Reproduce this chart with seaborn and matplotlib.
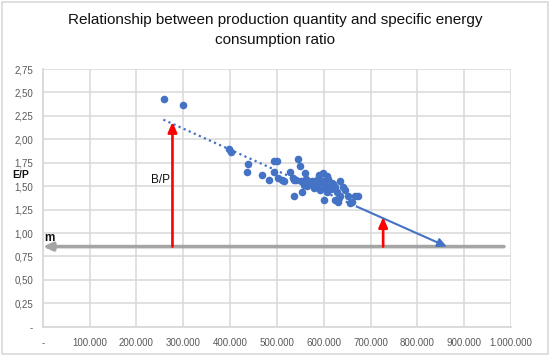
import matplotlib
matplotlib.use("Agg")
import matplotlib.pyplot as plt
import seaborn as sns
import pandas as pd
from matplotlib.patches import FancyBboxPatch

# ---- data ----
production = [259000, 299000, 398000, 402000, 439000, 436000, 469000, 484000,
              493000, 501000, 493000, 503000, 512000, 515000, 546000, 549000,
              529000, 535000, 540000, 536000, 560000, 562000, 552000, 557000,
              553000, 537000, 578000, 580000, 591000, 599000, 607000, 610000,
              582000, 585000, 596000, 603000, 610000, 592000, 607000, 617000,
              624000, 635000, 642000, 646000, 601000, 624000, 635000, 631000,
              656000, 660000, 667000, 674000, 653000, 570000, 588000, 598000,
              615000, 620000, 575000, 565000, 628000, 605000]
ep_ratio = [2.43, 2.37, 1.90, 1.87, 1.74, 1.65, 1.62, 1.57,
            1.77, 1.77, 1.65, 1.59, 1.57, 1.55, 1.79, 1.71,
            1.65, 1.59, 1.57, 1.57, 1.64, 1.58, 1.55, 1.51,
            1.44, 1.40, 1.51, 1.48, 1.62, 1.64, 1.61, 1.58,
            1.55, 1.51, 1.55, 1.51, 1.49, 1.46, 1.44, 1.53,
            1.49, 1.55, 1.49, 1.46, 1.35, 1.35, 1.40, 1.33,
            1.32, 1.33, 1.40, 1.39, 1.39, 1.54, 1.58, 1.53,
            1.47, 1.52, 1.56, 1.50, 1.44, 1.48]

trend_x = [257500, 674000]      # dotted trendline over data range
trend_y = [2.21, 1.275]
arrow_x = [674000, 863000]      # solid extension arrow
arrow_y = [1.275, 0.855]
m_value = 0.855
m_line_x = [985000, 0]
bp_x = [277000, 727000]         # red arrows (base to trend)
bp_top = [2.185, 1.17]

x_ticks = [0, 100000, 200000, 300000, 400000, 500000, 600000, 700000, 800000, 900000, 1000000]
x_labels = ["-", "100.000", "200.000", "300.000", "400.000", "500.000", "600.000",
            "700.000", "800.000", "900.000", "1.000.000"]
y_ticks = [0, 0.25, 0.5, 0.75, 1.0, 1.25, 1.5, 1.75, 2.0, 2.25, 2.5, 2.75]
y_labels = ["-", "0,25", "0,50", "0,75", "1,00", "1,25", "1,50", "1,75", "2,00", "2,25", "2,50", "2,75"]

title = "Relationship between production quantity and specific energy\nconsumption ratio"

# ---- style ----
sns.set_theme(style="white")
fam = ["Liberation Sans", "DejaVu Sans"]
plt.rcParams["font.family"] = fam

BLUE = "#4472C4"
GRID = "#D9D9D9"
GRAY = "#A5A5A5"
TXT = "#595959"

fig = plt.figure(figsize=(5.5, 3.56), dpi=100)
ax = fig.add_axes([0.0778, 0.0823, 0.929 - 0.0778, 0.806 - 0.0823])

df = pd.DataFrame({"production": production, "ep": ep_ratio})
sns.scatterplot(data=df, x="production", y="ep", ax=ax, color=BLUE, s=30,
                edgecolor=BLUE, linewidth=0, zorder=4)

ax.set_xlim(0, 1000000)
ax.set_ylim(0, 2.75)
ax.set_xticks(x_ticks)
ax.set_xticklabels(x_labels)
ax.set_yticks(y_ticks)
ax.set_yticklabels(y_labels)
ax.tick_params(axis="x", labelsize=7, colors=TXT, length=0, pad=8)
ax.tick_params(axis="y", labelsize=7, colors=TXT, length=0, pad=7)
ax.set_xlabel("")
ax.set_ylabel("")
ax.grid(True, color=GRID, linewidth=1.1)
ax.set_axisbelow(True)
for s in ["top", "right"]:
    ax.spines[s].set_visible(False)
for s in ["left", "bottom"]:
    ax.spines[s].set_color(GRID)
    ax.spines[s].set_linewidth(1.3)

# trendline (dotted)
ax.plot(trend_x, trend_y, color=BLUE, linestyle=(0, (1, 1.5)), linewidth=1.6, zorder=3)
# solid arrow extension
ax.annotate("", xy=(arrow_x[1], arrow_y[1]), xytext=(arrow_x[0], arrow_y[0]),
            arrowprops=dict(arrowstyle="-|>,head_length=0.45,head_width=0.22", color=BLUE,
                            lw=1.5, shrinkA=0, shrinkB=0), zorder=3)
# m line (gray) with arrow to the left
ax.annotate("", xy=(m_line_x[1], m_value), xytext=(m_line_x[0], m_value),
            arrowprops=dict(arrowstyle="-|>,head_length=0.45,head_width=0.2", color=GRAY,
                            lw=2.6, shrinkA=0, shrinkB=0), zorder=2)
# red arrows
for bx, bt in zip(bp_x, bp_top):
    ax.annotate("", xy=(bx, bt), xytext=(bx, m_value),
                arrowprops=dict(arrowstyle="-|>,head_length=0.5,head_width=0.22", color="#FF0000",
                                lw=1.9, shrinkA=0, shrinkB=0), zorder=5)

ax.text(252000, 1.567, "B/P", ha="center", va="center", fontsize=8.5, color="#111111",
        zorder=6)
ax.text(3000, 0.945, "m", ha="left", va="center", fontsize=8.5, color="#111111",
        fontweight="bold", zorder=6)
fig.text(12 / 550, 1 - 175 / 356, "E/P", ha="left", va="center", fontsize=7.5,
         color="#111111", fontweight="bold")

fig.text(0.5, 1 - 30 / 356, title, ha="center", va="center", fontsize=11,
         color="#111111", linespacing=1.5)

# chart border
fig.patches.append(FancyBboxPatch((0.004, 0.006), 0.992, 0.988, boxstyle="square,pad=0",
                                  transform=fig.transFigure, fill=False,
                                  edgecolor=GRID, linewidth=1.2))

fig.savefig("out.png", dpi=100, facecolor="white")
